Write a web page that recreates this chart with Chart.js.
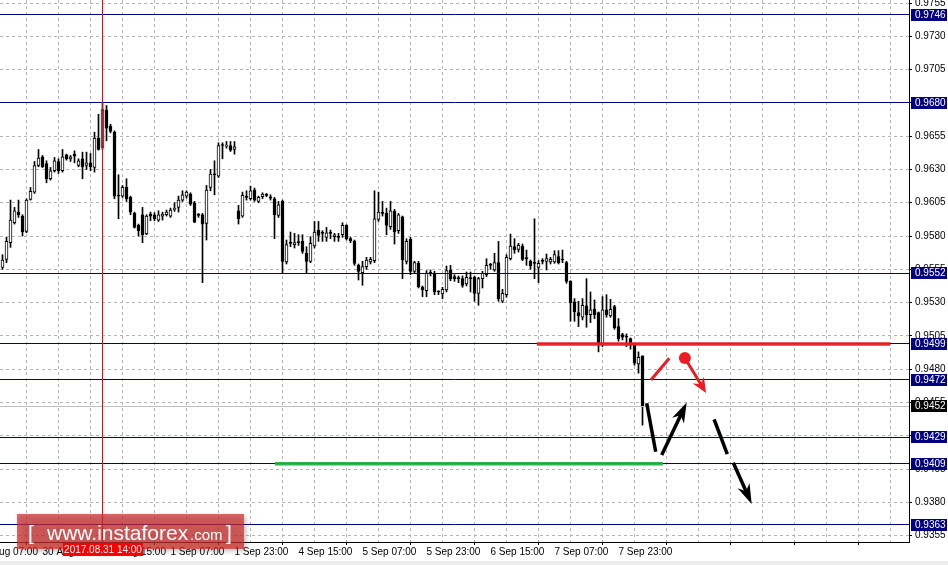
<!DOCTYPE html>
<html>
<head>
<meta charset="utf-8">
<script src="https://cdn.jsdelivr.net/npm/chart.js@4.4.1/dist/chart.umd.min.js"></script>
<style>
  html, body { margin: 0; padding: 0; background: #fff; overflow: hidden; }
  #wrap { position: relative; width: 948px; height: 565px; }
</style>
</head>
<body>
<div id="wrap"><canvas id="chart" width="948" height="565"></canvas></div>
<script>
// H1 candles, 30 Aug 13:00 .. 8 Sep 05:00 (one entry per bar)
const openP = [
  0.95565, 0.95625, 0.9575, 0.9590, 0.9598, 0.9595, 0.95835, 0.96075, 0.9613, 0.9633,
  0.96395, 0.96345, 0.9623, 0.9629, 0.9636, 0.9629, 0.9641, 0.9638, 0.96415, 0.9633,
  0.9638, 0.9633, 0.9635, 0.96315, 0.96535, 0.96465, 0.96745, 0.96625, 0.9658, 0.9610,
  0.9610, 0.96165, 0.9609, 0.9597, 0.9588, 0.9596, 0.95815, 0.95965, 0.9596, 0.9592,
  0.9595, 0.9596, 0.9595, 0.9600, 0.96015, 0.9607, 0.9610, 0.96115, 0.9605, 0.95955,
  0.9596, 0.95895, 0.96165, 0.9626, 0.9625, 0.9648, 0.96475, 0.9648, 0.9645, 0.9599,
  0.9595, 0.9609, 0.9608, 0.96145, 0.9606, 0.96095, 0.9611, 0.96095, 0.9608, 0.95955,
  0.9606, 0.95605, 0.9575, 0.95735, 0.9575, 0.9576, 0.9567, 0.9561, 0.95725, 0.95845,
  0.9582, 0.9579, 0.9582, 0.95795, 0.9579, 0.9581, 0.9588, 0.9578, 0.9576, 0.9558,
  0.95525, 0.9557, 0.95605, 0.95615, 0.95925, 0.9597, 0.9597, 0.9587, 0.95985, 0.9584,
  0.95945, 0.9561, 0.95775, 0.95535, 0.95595, 0.95415, 0.9539, 0.9552, 0.9552, 0.9538,
  0.95365, 0.95395, 0.95545, 0.95495, 0.9548, 0.9548, 0.9544, 0.9548, 0.9549, 0.9537,
  0.9548, 0.9551, 0.9558, 0.95545, 0.9560, 0.9531, 0.9536, 0.9563, 0.9572, 0.9570,
  0.95725, 0.9563, 0.9561, 0.95595, 0.95565, 0.9561, 0.9561, 0.95605, 0.95605, 0.95645,
  0.9562, 0.9560, 0.9546, 0.95305, 0.95225, 0.9519, 0.95275, 0.9521, 0.9525, 0.95225,
  0.9498, 0.95245, 0.9520, 0.9527, 0.9512, 0.9506, 0.9504, 0.9503, 0.9498, 0.9484,
  0.9490
];
const highP = [
  0.9566, 0.9579, 0.9607, 0.96015, 0.9607, 0.9596, 0.9608, 0.96165, 0.9636, 0.9645,
  0.96405, 0.96365, 0.96315, 0.9639, 0.9638, 0.9645, 0.96415, 0.96405, 0.9644, 0.9638,
  0.9643, 0.9643, 0.9642, 0.9658, 0.96715, 0.9680, 0.9678, 0.9664, 0.9659, 0.9626,
  0.9618, 0.9623, 0.9610, 0.9598, 0.9589, 0.96015, 0.9596, 0.9598, 0.95975, 0.9599,
  0.9598, 0.95995, 0.9601, 0.9605, 0.9610, 0.9614, 0.9614, 0.96125, 0.9606, 0.9597,
  0.9597, 0.9618, 0.9630, 0.96365, 0.9650, 0.9650, 0.9651, 0.9651, 0.9651, 0.9603,
  0.9613, 0.9614, 0.96175, 0.9616, 0.9610, 0.96125, 0.9612, 0.9611, 0.9609, 0.9606,
  0.9607, 0.9577, 0.9583, 0.9582, 0.9581, 0.9581, 0.9572, 0.95795, 0.9591, 0.9591,
  0.9584, 0.95865, 0.95845, 0.9582, 0.9582, 0.9590, 0.95885, 0.9579, 0.9577, 0.9559,
  0.9561, 0.9564, 0.9564, 0.9614, 0.9613, 0.9606, 0.9601, 0.9606, 0.9600, 0.9597,
  0.9595, 0.9578, 0.9579, 0.9561, 0.9561, 0.95425, 0.9554, 0.95545, 0.95535, 0.9539,
  0.95415, 0.95575, 0.9558, 0.9551, 0.9550, 0.9550, 0.9553, 0.9553, 0.9550, 0.9549,
  0.95535, 0.9563, 0.95595, 0.9567, 0.9576, 0.9540, 0.9566, 0.95815, 0.9578, 0.95745,
  0.9574, 0.95695, 0.9562, 0.9593, 0.95615, 0.9563, 0.95665, 0.9564, 0.9569, 0.9569,
  0.95695, 0.9561, 0.95465, 0.9533, 0.9531, 0.9533, 0.9548, 0.9538, 0.9532, 0.9523,
  0.95345, 0.9536, 0.95325, 0.9528, 0.9518, 0.9507, 0.95065, 0.95035, 0.94995, 0.9493,
  0.9490
];
const lowP = [
  0.9555, 0.9560, 0.95715, 0.9589, 0.9594, 0.9580, 0.95825, 0.9607, 0.9612, 0.9632,
  0.96315, 0.9620, 0.9622, 0.9628, 0.9627, 0.9628, 0.9637, 0.9636, 0.9635, 0.9632,
  0.9623, 0.9630, 0.9629, 0.9628, 0.96445, 0.9645, 0.96515, 0.96575, 0.9608, 0.9593,
  0.9609, 0.9606, 0.9596, 0.9586, 0.9580, 0.9575, 0.9581, 0.95915, 0.95915, 0.9591,
  0.9592, 0.9595, 0.9594, 0.95985, 0.9598, 0.9606, 0.96085, 0.9603, 0.9590, 0.9594,
  0.9545, 0.9577, 0.9614, 0.9611, 0.9624, 0.9638, 0.9646, 0.96435, 0.96415, 0.9589,
  0.9594, 0.9607, 0.9607, 0.9606, 0.9605, 0.9608, 0.96095, 0.9607, 0.9578, 0.9594,
  0.9552, 0.9559, 0.9572, 0.9571, 0.9573, 0.9567, 0.9552, 0.9560, 0.9571, 0.9576,
  0.9576, 0.9576, 0.9578, 0.9576, 0.9576, 0.9579, 0.9577, 0.9575, 0.9558, 0.9547,
  0.9543, 0.9555, 0.9559, 0.9560, 0.9591, 0.9595, 0.9581, 0.9585, 0.9574, 0.9582,
  0.9548, 0.9559, 0.9551, 0.9552, 0.9541, 0.95345, 0.95345, 0.9550, 0.9536, 0.9536,
  0.9533, 0.9538, 0.95465, 0.9546, 0.9545, 0.95415, 0.95425, 0.9538, 0.9531, 0.9528,
  0.9541, 0.95495, 0.9555, 0.95535, 0.9531, 0.9530, 0.9534, 0.9562, 0.9567, 0.9568,
  0.95615, 0.9558, 0.9555, 0.9548, 0.9545, 0.9559, 0.95545, 0.9559, 0.95595, 0.9559,
  0.9560, 0.95445, 0.9516, 0.9516, 0.9512, 0.9517, 0.95115, 0.9515, 0.9518, 0.9493,
  0.9497, 0.9519, 0.9519, 0.9510, 0.9501, 0.9502, 0.9497, 0.9495, 0.9483, 0.9477,
  0.9438
];
const closeP = [
  0.9562, 0.9576, 0.9592, 0.9599, 0.9596, 0.9583, 0.9607, 0.96135, 0.9633, 0.96385,
  0.9632, 0.9623, 0.9629, 0.96365, 0.9629, 0.96395, 0.9638, 0.96395, 0.9640, 0.96365,
  0.9632, 0.9635, 0.9632, 0.96535, 0.9645, 0.9675, 0.9661, 0.96585, 0.9610, 0.9610,
  0.96165, 0.9608, 0.9598, 0.95865, 0.9584, 0.9581, 0.9595, 0.9595, 0.9593, 0.9596,
  0.95965, 0.9598, 0.95995, 0.96005, 0.9607, 0.9611, 0.9613, 0.9604, 0.95905, 0.95955,
  0.9589, 0.96145, 0.96265, 0.9626, 0.9648, 0.9648, 0.9648, 0.96445, 0.9647, 0.9593,
  0.96105, 0.9609, 0.9614, 0.9607, 0.9609, 0.96115, 0.96105, 0.96085, 0.9596, 0.96035,
  0.9561, 0.95735, 0.95745, 0.9575, 0.9575, 0.95685, 0.9561, 0.95745, 0.9583, 0.95805,
  0.9582, 0.95825, 0.9582, 0.9581, 0.9579, 0.9588, 0.9578, 0.95765, 0.95595, 0.95535,
  0.9557, 0.9562, 0.95625, 0.9593, 0.9598, 0.9597, 0.9588, 0.9599, 0.9583, 0.9596,
  0.9562, 0.9576, 0.95535, 0.9560, 0.9542, 0.95395, 0.9552, 0.9552, 0.9538, 0.9538,
  0.9540, 0.9554, 0.9548, 0.9548, 0.9548, 0.9543, 0.9549, 0.9548, 0.9537, 0.9548,
  0.9552, 0.9558, 0.9558, 0.9560, 0.9533, 0.9537, 0.9564, 0.95725, 0.95695, 0.9573,
  0.95625, 0.9563, 0.95575, 0.95595, 0.95595, 0.9561, 0.9563, 0.95625, 0.9566, 0.9560,
  0.9562, 0.9546, 0.9530, 0.9523, 0.9520, 0.9528, 0.9521, 0.95245, 0.9521, 0.9499,
  0.95245, 0.9521, 0.9525, 0.9511, 0.9503, 0.9504, 0.9504, 0.9498, 0.94845, 0.9489,
  0.9452
];

// axis
const priceMin = 0.935023;
const priceMax = 0.975726;
const priceTicks = [0.9355, 0.9380, 0.9405, 0.9430, 0.9455, 0.9480, 0.9505, 0.9530, 0.9555,
  0.9580, 0.9605, 0.9630, 0.9655, 0.9680, 0.9705, 0.9730, 0.9755];
const timeLabels = ["30 Aug 07:00", "30 Aug 23:00", "31 Aug 15:00", "1 Sep 07:00", "1 Sep 23:00",
  "4 Sep 15:00", "5 Sep 07:00", "5 Sep 23:00", "6 Sep 15:00", "7 Sep 07:00", "7 Sep 23:00"];
const firstLabelBar = -6;   // bar of "30 Aug 07:00"
const gridStepBars = 8;
const lastGridBar = 226;

// objects on the chart
const levelLines = [0.9746, 0.9680, 0.9552, 0.9499, 0.9472, 0.9429, 0.9409, 0.9363];
const bidPrice = 0.9452;
const cursorBar = 25;
const cursorText = "2017.08.31 14:00";
const redLevel = { from: 133.6, to: 221.9, price: 0.9499 };
const greenLevel = { from: 68.1, to: 165.1, price: 0.9409 };
const redSegment = [[162.1, 0.94719], [166.7, 0.94882]];
const redDot = [170.6, 0.94884];
const redArrowTip = [175.9, 0.94621];
const blackSeg1 = [[161.05, 0.94544], [163.3, 0.94180]];
const blackArrow1 = [[164.8, 0.94156], [171.05, 0.94549]];
const blackSeg2 = [[177.9, 0.94424], [181.2, 0.94163]];
const blackArrow2 = [[182.7, 0.94098], [187.3, 0.93788]];

const FONT = "'Liberation Sans', Arial, sans-serif";
const FS = 10;

const bars = openP.map((_, i) => i);
const bodyData = bars.map((i) => ({ x: i, y: [openP[i], closeP[i]] }));
const wickData = bars.map((i) => ({ x: i, y: [lowP[i], highP[i]] }));
const bodyFill = bars.map((i) => (closeP[i] > openP[i] ? "#ffffff" : "#000000"));

const gridBars = [];
for (let b = firstLabelBar; b <= lastGridBar; b += gridStepBars) gridBars.push(b);

function drawArrow(ctx, x1, y1, x2, y2, color, lw, headLen, headW) {
  const a = Math.atan2(y2 - y1, x2 - x1);
  const c = Math.cos(a), s = Math.sin(a);
  const bx = x2 - headLen * c, by = y2 - headLen * s;
  ctx.strokeStyle = color;
  ctx.fillStyle = color;
  ctx.lineWidth = lw;
  ctx.beginPath();
  ctx.moveTo(x1, y1);
  ctx.lineTo(x2 - headLen * 0.6 * c, y2 - headLen * 0.6 * s);
  ctx.stroke();
  ctx.beginPath();
  ctx.moveTo(x2, y2);
  ctx.lineTo(bx - s * headW, by + c * headW);
  ctx.lineTo(x2 - headLen * 0.7 * c, y2 - headLen * 0.7 * s);
  ctx.lineTo(bx + s * headW, by - c * headW);
  ctx.closePath();
  ctx.fill();
}

const overlay = {
  id: "overlay",
  afterDatasetsDraw(chart) {
    const { ctx, chartArea: area, scales: { x, y } } = chart;
    const px = (b) => x.getPixelForValue(b);
    const py = (p) => y.getPixelForValue(p);
    const crisp = (v) => Math.round(v - 0.5) + 0.5;
    ctx.save();
    ctx.beginPath();
    ctx.rect(area.left, area.top, area.right - area.left, area.bottom - area.top);
    ctx.clip();

    // bid line
    ctx.lineWidth = 1;
    ctx.strokeStyle = "#c0c0c0";
    ctx.beginPath();
    ctx.moveTo(area.left, crisp(py(bidPrice)));
    ctx.lineTo(area.right, crisp(py(bidPrice)));
    ctx.stroke();

    // horizontal levels
    ctx.strokeStyle = "#000080";
    levelLines.forEach((p) => {
      const yy = crisp(py(p));
      ctx.beginPath();
      ctx.moveTo(area.left, yy);
      ctx.lineTo(area.right, yy);
      ctx.stroke();
    });

    // red cursor line
    ctx.strokeStyle = "#ff0000";
    ctx.beginPath();
    ctx.moveTo(crisp(px(cursorBar)), area.top);
    ctx.lineTo(crisp(px(cursorBar)), area.bottom);
    ctx.stroke();

    // thick red / green levels
    ctx.lineCap = "butt";
    ctx.lineWidth = 3.5;
    ctx.strokeStyle = "rgba(235,28,36,0.95)";
    ctx.beginPath();
    ctx.moveTo(px(redLevel.from), py(redLevel.price));
    ctx.lineTo(px(redLevel.to), py(redLevel.price));
    ctx.stroke();
    ctx.strokeStyle = "rgba(34,177,76,0.95)";
    ctx.beginPath();
    ctx.moveTo(px(greenLevel.from), py(greenLevel.price));
    ctx.lineTo(px(greenLevel.to), py(greenLevel.price));
    ctx.stroke();

    // red forecast
    ctx.lineWidth = 3;
    ctx.strokeStyle = "#ed1c24";
    ctx.beginPath();
    ctx.moveTo(px(redSegment[0][0]), py(redSegment[0][1]));
    ctx.lineTo(px(redSegment[1][0]), py(redSegment[1][1]));
    ctx.stroke();
    drawArrow(ctx, px(redDot[0]), py(redDot[1]), px(redArrowTip[0]), py(redArrowTip[1]), "#ed1c24", 3, 15, 6.5);
    ctx.fillStyle = "#ed1c24";
    ctx.beginPath();
    ctx.arc(px(redDot[0]), py(redDot[1]), 6, 0, Math.PI * 2);
    ctx.fill();

    // black forecast
    ctx.lineWidth = 3.5;
    ctx.strokeStyle = "#000";
    [blackSeg1, blackSeg2].forEach((seg) => {
      ctx.beginPath();
      ctx.moveTo(px(seg[0][0]), py(seg[0][1]));
      ctx.lineTo(px(seg[1][0]), py(seg[1][1]));
      ctx.stroke();
    });
    [blackArrow1, blackArrow2].forEach((ar) => {
      drawArrow(ctx, px(ar[0][0]), py(ar[0][1]), px(ar[1][0]), py(ar[1][1]), "#000", 3.5, 20, 6.5);
    });
    ctx.restore();
  },
  afterDraw(chart) {
    const { ctx, chartArea: area, scales: { x, y } } = chart;
    const py = (p) => y.getPixelForValue(p);
    ctx.save();
    ctx.font = FS + "px " + FONT;
    ctx.textBaseline = "middle";
    ctx.textAlign = "left";

    // price boxes on the right axis
    const box = (p, bg) => {
      const yy = Math.round(py(p));
      ctx.fillStyle = bg;
      ctx.fillRect(area.right + 2, yy - 6, 36, 12);
      ctx.fillStyle = "#fff";
      ctx.fillText(p.toFixed(4), area.right + 6, yy + 0.5);
    };
    levelLines.forEach((p) => box(p, "#000080"));
    box(bidPrice, "#000");

    // watermark
    ctx.save();
    ctx.shadowColor = "rgba(0,0,0,0.35)";
    ctx.shadowBlur = 5;
    ctx.shadowOffsetX = 2;
    ctx.shadowOffsetY = 2;
    ctx.fillStyle = "rgba(205,45,45,0.72)";
    ctx.fillRect(17, 514, 227, 35);
    ctx.restore();
    ctx.fillStyle = "#fff";
    ctx.textBaseline = "alphabetic";
    ctx.font = "21px " + FONT;
    ctx.fillText("[", 28, 540);
    ctx.fillText("www.instaforex", 47, 540);
    ctx.fillText("]", 226, 540);
    ctx.font = "15px " + FONT;
    ctx.fillText(".com", 190, 540);

    // time cursor box
    const cx = Math.round(x.getPixelForValue(cursorBar));
    ctx.fillStyle = "#ff0000";
    ctx.fillRect(cx - 40, area.bottom + 1, 80, 13);
    ctx.fillStyle = "#fff";
    ctx.font = FS + "px " + FONT;
    ctx.textBaseline = "middle";
    ctx.textAlign = "center";
    ctx.fillText(cursorText, cx, area.bottom + 8);

    // window strip at the bottom
    ctx.fillStyle = "#ececec";
    ctx.fillRect(0, 561, chart.width, 4);
    ctx.restore();
  }
};

new Chart(document.getElementById("chart"), {
  type: "bar",
  data: {
    datasets: [
      {
        data: wickData,
        backgroundColor: "#000",
        borderWidth: 0,
        barThickness: 1,
        grouped: false,
        order: 2
      },
      {
        data: bodyData,
        backgroundColor: bodyFill,
        borderColor: "#000",
        borderWidth: 1,
        borderSkipped: false,
        barThickness: 3,
        minBarLength: 1,
        grouped: false,
        order: 1
      }
    ]
  },
  options: {
    responsive: false,
    animation: false,
    layout: { padding: 0 },
    plugins: { legend: { display: false }, tooltip: { enabled: false } },
    scales: {
      x: {
        type: "linear",
        min: -0.625,
        max: 226.625,
        bounds: "data",
        offset: false,
        afterBuildTicks: (s) => { s.ticks = gridBars.map((v) => ({ value: v })); },
        afterFit: (s) => { s.height = 23; s.paddingLeft = 0; s.paddingRight = 0; },
        ticks: {
          autoSkip: false,
          maxRotation: 0,
          align: "start",
          padding: 1,
          color: "#000",
          font: { family: FONT, size: FS },
          callback: (v, i) => (i % 2 === 0 ? timeLabels[i / 2] || "" : "")
        },
        grid: {
          color: "#b4b4b4",
          tickLength: 3,
          tickColor: (c) => (c.index % 2 === 0 ? "#000" : "rgba(0,0,0,0)")
        },
        border: { color: "#000", width: 1, dash: [3, 3] }
      },
      y: {
        position: "right",
        min: priceMin,
        max: priceMax,
        bounds: "data",
        afterBuildTicks: (s) => { s.ticks = priceTicks.map((v) => ({ value: v })); },
        afterFit: (s) => { s.width = 39; s.paddingTop = 0; s.paddingBottom = 0; },
        ticks: {
          padding: 3,
          color: "#000",
          font: { family: FONT, size: FS },
          callback: (v) => Number(v).toFixed(4)
        },
        grid: { color: "#b4b4b4", tickLength: 3, tickColor: "#000" },
        border: { color: "#000", width: 1, dash: [3, 3] }
      }
    }
  },
  plugins: [overlay]
});
</script>
</body>
</html>
